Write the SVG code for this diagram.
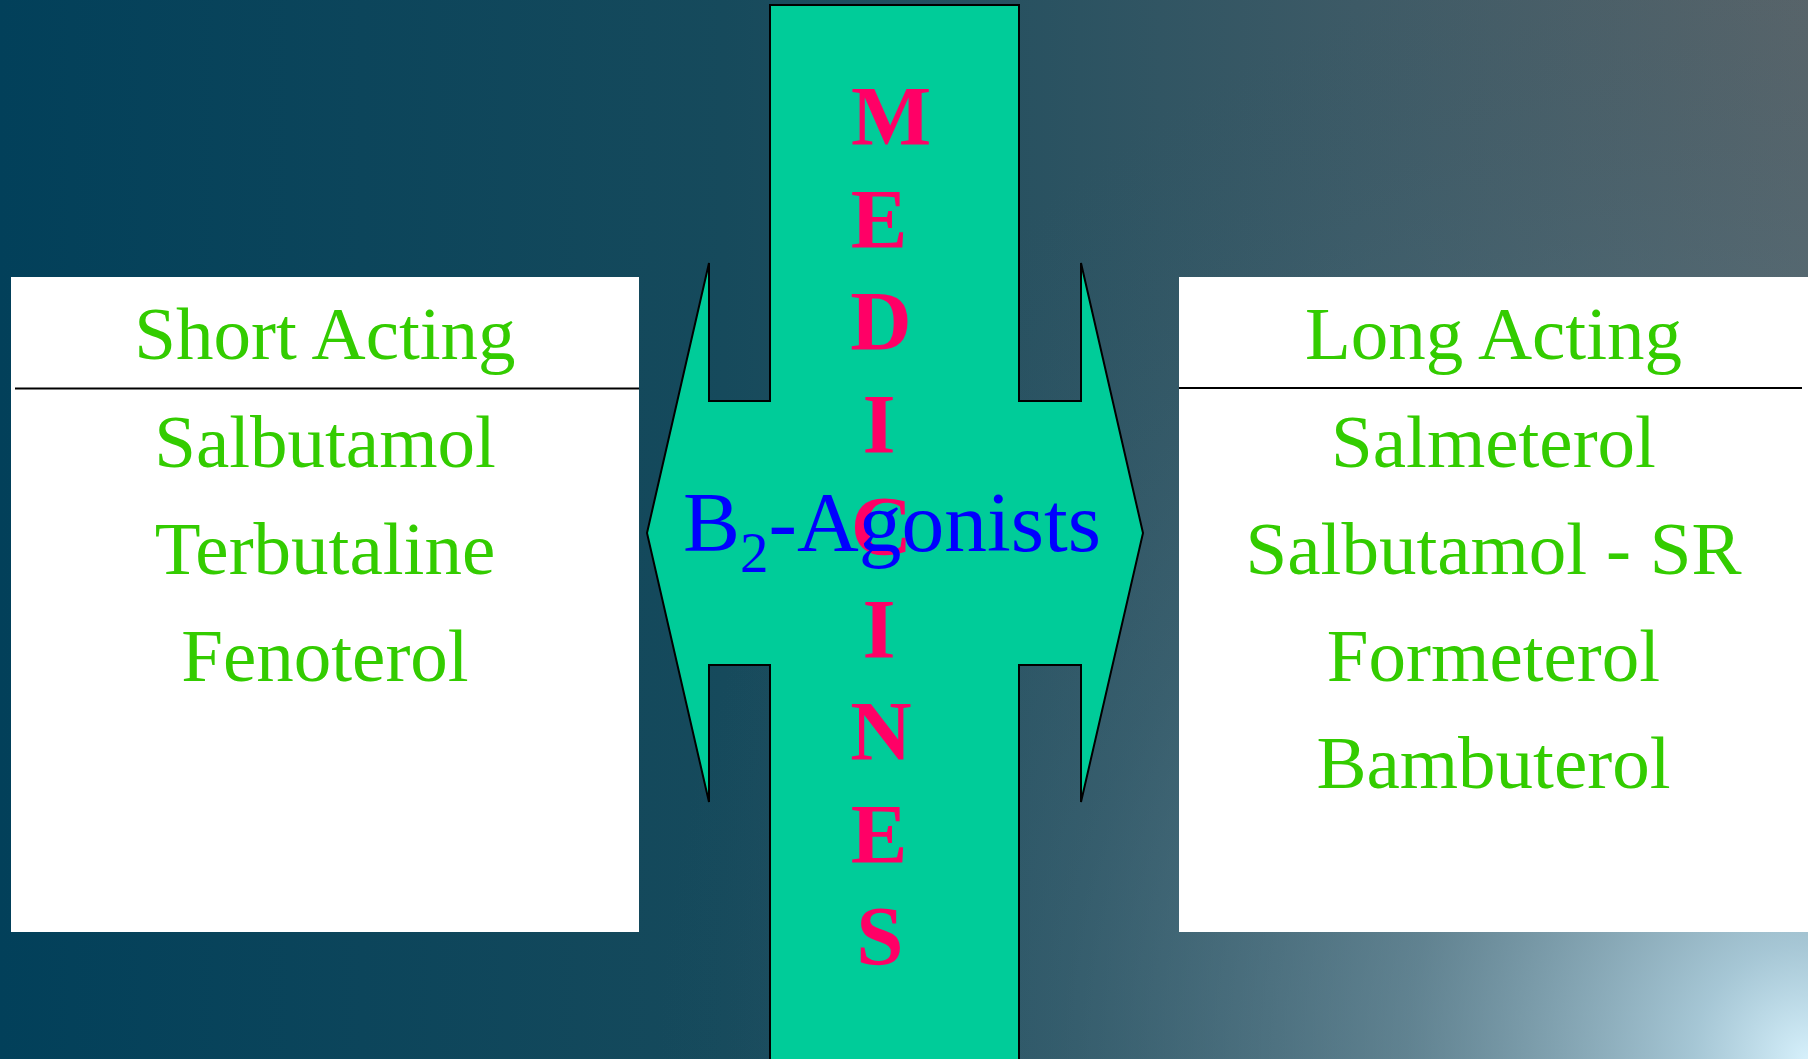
<svg xmlns="http://www.w3.org/2000/svg" width="1808" height="1059" viewBox="0 0 1808 1059">
  <defs>
    <linearGradient id="bgLin" x1="0" y1="0" x2="1808" y2="0" gradientUnits="userSpaceOnUse">
      <stop offset="0" stop-color="#02405a"/>
      <stop offset="0.4" stop-color="#164a5c"/>
      <stop offset="0.75" stop-color="#3d5a66"/>
      <stop offset="1" stop-color="#5a6469"/>
    </linearGradient>
    <radialGradient id="bgGlow" cx="1808" cy="1059" r="1150" gradientUnits="userSpaceOnUse">
      <stop offset="0" stop-color="#d6f0fb" stop-opacity="1"/>
      <stop offset="0.1" stop-color="#b4d8e8" stop-opacity="0.85"/>
      <stop offset="0.35" stop-color="#7aa2b3" stop-opacity="0.55"/>
      <stop offset="0.65" stop-color="#4a7486" stop-opacity="0.3"/>
      <stop offset="1" stop-color="#2f5a6c" stop-opacity="0"/>
    </radialGradient>
    <style>
      .box { fill: #ffffff; }
      .rule { stroke: #000000; stroke-width: 2; }
      .green { font-family: "Liberation Serif", "Times New Roman", serif; font-size: 75px; fill: #33cc00; text-anchor: middle; }
      .letter { font-family: "Liberation Serif", "Times New Roman", serif; font-size: 85px; font-weight: bold; fill: #ff0066; text-anchor: middle; }
      .blue { font-family: "Liberation Serif", "Times New Roman", serif; font-size: 85.5px; fill: #0000ff; }
      .arrow { fill: #00cc99; stroke: #000000; stroke-width: 2; stroke-linejoin: miter; }
    </style>
  </defs>

  <rect x="0" y="0" width="1808" height="1059" fill="url(#bgLin)"/>
  <rect x="0" y="0" width="1808" height="1059" fill="url(#bgGlow)"/>

  <g id="short-acting">
    <rect class="box" x="11" y="277" width="628" height="655"/>
    <line class="rule" x1="15" y1="388.5" x2="639" y2="388.5"/>
    <text class="green" x="325" y="359">Short Acting</text>
    <text class="green" x="325" y="467">Salbutamol</text>
    <text class="green" x="325" y="573.5">Terbutaline</text>
    <text class="green" x="325" y="680.5">Fenoterol</text>
  </g>

  <g id="long-acting">
    <rect class="box" x="1179" y="277" width="629" height="655"/>
    <line class="rule" x1="1179" y1="388" x2="1802" y2="388"/>
    <text class="green" x="1493.5" y="359">Long Acting</text>
    <text class="green" x="1493.5" y="466.5">Salmeterol</text>
    <text class="green" x="1493.5" y="573.5">Salbutamol - SR</text>
    <text class="green" x="1493.5" y="680.5">Formeterol</text>
    <text class="green" x="1493.5" y="788">Bambuterol</text>
  </g>

  <g id="center-arrow">
    <path class="arrow" d="M770,5 L1019,5 L1019,401 L1081,401 L1081,263 L1143,533 L1081,802 L1081,665 L1019,665 L1019,1070 L770,1070 L770,665 L709,665 L709,802 L647,533 L709,263 L709,401 L770,401 Z"/>
    <g id="medicines">
      <text class="letter" x="891" y="145">M</text>
      <text class="letter" x="879" y="247.5">E</text>
      <text class="letter" x="881" y="350">D</text>
      <text class="letter" x="879" y="452.5">I</text>
      <text class="letter" x="881.5" y="555">C</text>
      <text class="letter" x="879" y="657.5">I</text>
      <text class="letter" x="881" y="760">N</text>
      <text class="letter" x="879" y="862.5">E</text>
      <text class="letter" x="880" y="965">S</text>
    </g>
    <text id="b2-agonists" class="blue" x="683" y="551">B<tspan font-size="57" dy="21">2</tspan><tspan dy="-21">-Agonists</tspan></text>
  </g>
</svg>
